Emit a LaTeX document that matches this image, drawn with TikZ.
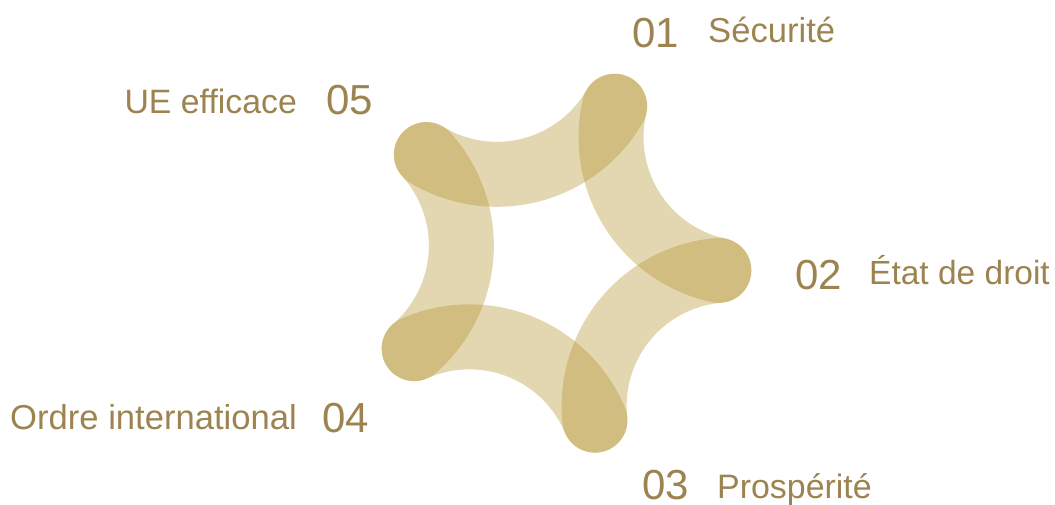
\documentclass[tikz,border=0pt]{standalone}
\usepackage{fontspec}
\setmainfont{Liberation Sans}
\usetikzlibrary{calc}
\definecolor{gold}{HTML}{B19026}
\definecolor{labelc}{HTML}{9C8350}
\newcommand{\labsize}[1]{\fontsize{#1}{36}\selectfont}
\tikzset{
  x=1pt,y=1pt,
  band/.style={draw=gold,draw opacity=.36,line width=65pt,line cap=round},
  num/.style={anchor=base west,inner sep=0pt,text=labelc,font=\fontsize{42}{42}\selectfont},
  lab/.style={anchor=base west,inner sep=0pt,text=labelc,font=\labsize{34.6}},
  labr/.style={lab,anchor=base east}
}
\begin{document}
\begin{tikzpicture}
\useasboundingbox (0,0) rectangle (1055,504);
\coordinate (ctr) at (553.8,244);
\foreach \k in {0,...,4}{
  \pgfmathsetmacro{\dirang}{104.4-72*\k}
  \pgfmathsetmacro{\dx}{\k==4 ? -1 : 0}
  \draw[band,xshift=\dx pt] ($(ctr)+(\dirang:229)+(\dirang+180-45.6:136.1)$)
     arc[start angle=\dirang+180-45.6,end angle=\dirang+180+45.6,radius=136.1];
}
\node[num] (n1) at (632,456) {01};
\node[lab] (l1) at (708,461) {Sécurité};
\node[num] (n2) at (795,214.5) {02};
\node[lab,font=\labsize{33.5}] (l2) at (869,219) {État de droit};
\node[num] (n3) at (642,5) {03};
\node[lab,font=\labsize{33.9}] (l3) at (717,6) {Prospérité};
\node[num] (n4) at (322,72) {04};
\node[labr] (l4) at (297,74.5) {Ordre international};
\node[num] (n5) at (326,389) {05};
\node[labr,font=\labsize{33.8}] (l5) at (297,390.5) {UE efficace};
\end{tikzpicture}
\end{document}
